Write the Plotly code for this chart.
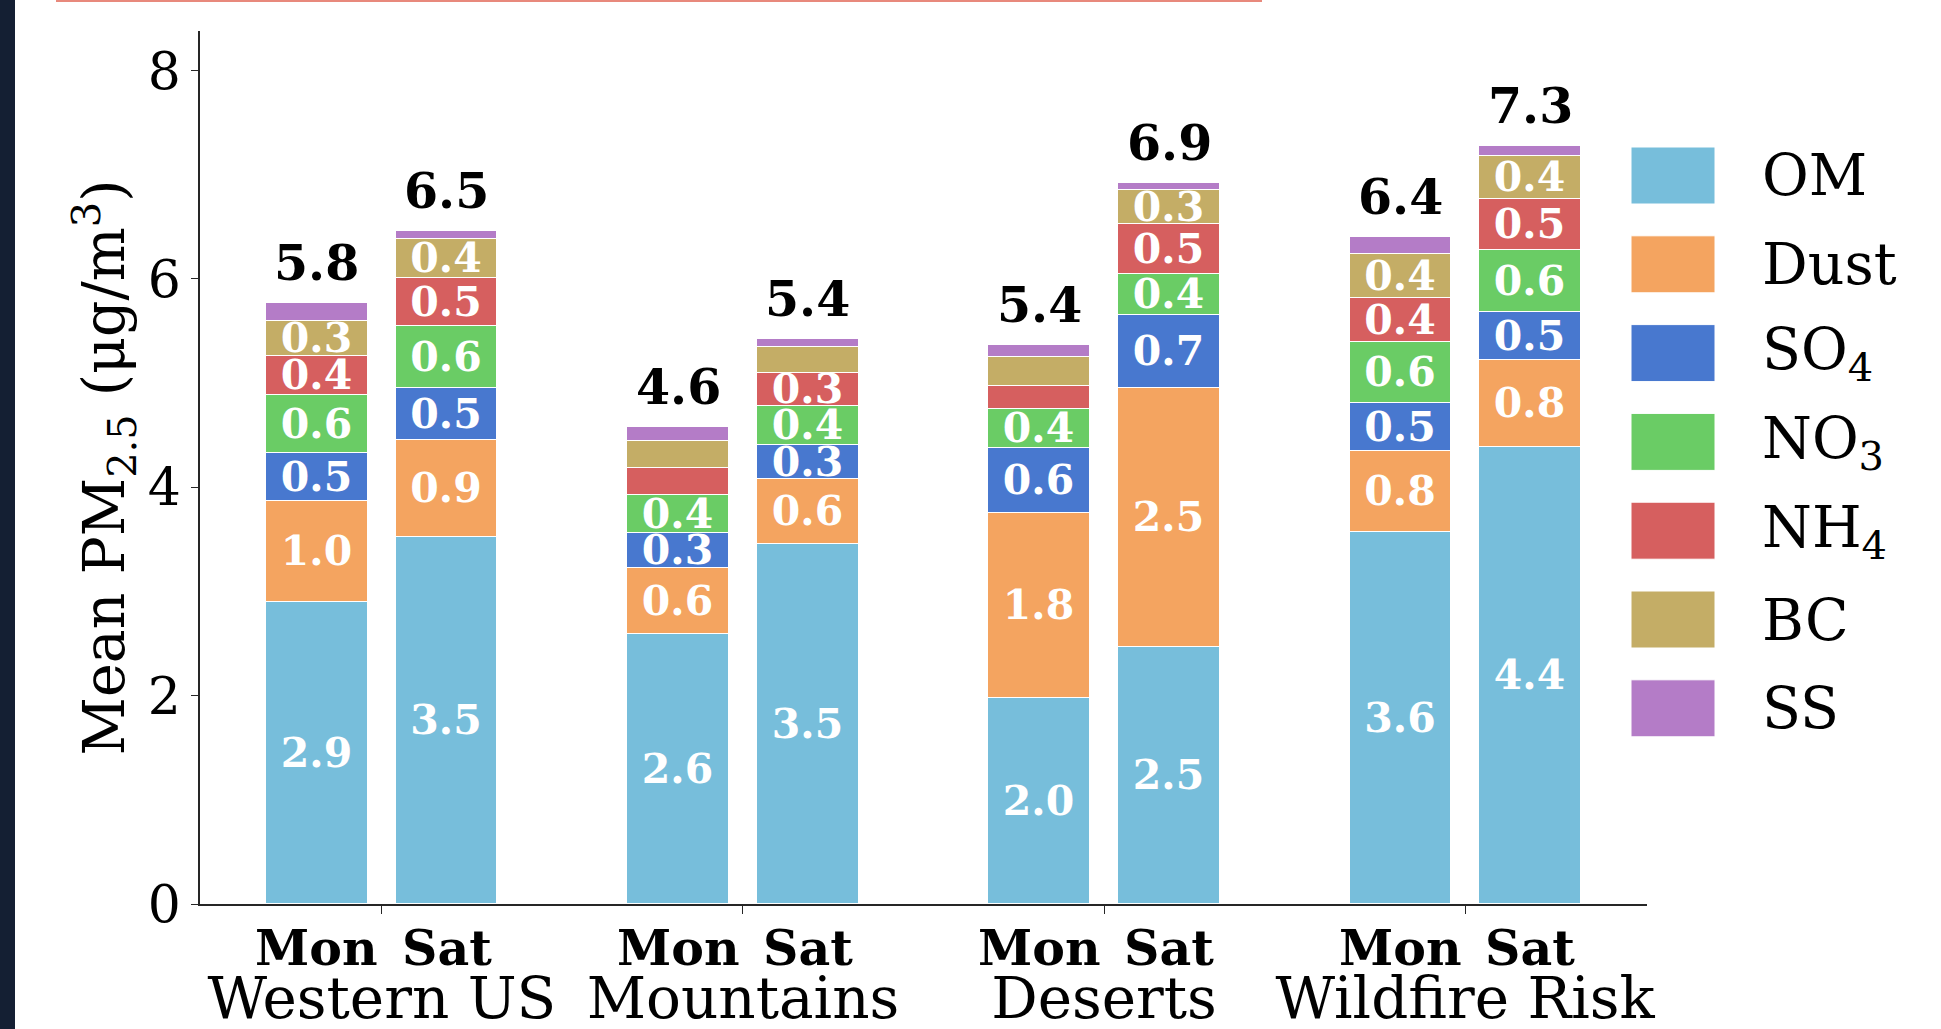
import plotly.graph_objects as go

# ---------------- data ----------------
regions = ["Western US", "Mountains", "Deserts", "Wildfire Risk"]
days = ["Mon", "Sat"]
components = ["OM", "Dust", "SO<sub>4</sub>", "NO<sub>3</sub>", "NH<sub>4</sub>", "BC", "SS"]
# order of bars: [WUS Mon, WUS Sat, Mtn Mon, Mtn Sat, Des Mon, Des Sat, WF Mon, WF Sat]
om = [2.90, 3.52, 2.59, 3.46, 1.98, 2.47, 3.57, 4.39]
dust = [0.97, 0.93, 0.64, 0.62, 1.77, 2.48, 0.78, 0.83]
so4 = [0.46, 0.50, 0.33, 0.33, 0.63, 0.70, 0.46, 0.46]
no3 = [0.56, 0.60, 0.37, 0.37, 0.37, 0.40, 0.58, 0.60]
nh4 = [0.37, 0.46, 0.26, 0.32, 0.22, 0.48, 0.43, 0.49]
bc = [0.34, 0.37, 0.25, 0.25, 0.28, 0.32, 0.42, 0.41]
ss = [0.17, 0.08, 0.14, 0.07, 0.12, 0.07, 0.16, 0.10]
series = [om, dust, so4, no3, nh4, bc, ss]
colors = ["#77BEDB", "#F4A460", "#4878CF", "#6ACC65", "#D65F5F", "#C4AD66", "#B47CC7"]

LABEL_MIN = 0.3
DAY_OFFSET = 0.18
BAR_WIDTH = 0.28

FONT = "DejaVu Serif"

# ---------------- layout geometry (pixels) ----------------
W, H = 1941, 1029
ML, MR, MT, MB = 200, 294, 31, 125
PW, PH = W - ML - MR, H - MT - MB


def px2x(px):
    return (px - ML) / PW


def px2y(py):
    return (H - MB - py) / PH


xs = []
for gi, _ in enumerate(regions):
    for di, _ in enumerate(days):
        xs.append(gi + (DAY_OFFSET if di else -DAY_OFFSET))

fig = go.Figure()
for name, vals, col in zip(components, series, colors):
    fig.add_trace(go.Bar(
        x=xs, y=vals, width=BAR_WIDTH, name=name,
        marker=dict(color=col, line=dict(color="white", width=1)),
        text=[f"{v:.1f}" if v >= LABEL_MIN else "" for v in vals],
        textposition="inside", insidetextanchor="middle", textangle=0,
        textfont=dict(family=FONT, size=41, color="white", weight="bold"),
        showlegend=False, hoverinfo="skip",
    ))

totals = [sum(s[i] for s in series) for i in range(len(xs))]
annotations = []
for x, t in zip(xs, totals):
    annotations.append(dict(x=x, y=t, xref="x", yref="y", text=f"<b>{t:.1f}</b>",
                            showarrow=False, yanchor="middle", yshift=40,
                            font=dict(family=FONT, size=49, color="black")))
for i, x in enumerate(xs):
    annotations.append(dict(x=x, y=0, xref="x", yref="paper", text=f"<b>{days[i % 2]}</b>",
                            showarrow=False, yanchor="middle", yshift=-44,
                            font=dict(family=FONT, size=49, color="black")))

# manual legend with large swatches
shapes = []
LEG_X0, LEG_X1, LEG_TOP, LEG_STEP, LEG_H, LEG_TX = 1631, 1715, 147, 88.8, 57, 1760
for k, (name, col) in enumerate(zip(components, colors)):
    top = LEG_TOP + k * LEG_STEP
    shapes.append(dict(type="rect", xref="paper", yref="paper",
                       x0=px2x(LEG_X0), x1=px2x(LEG_X1), y0=px2y(top + LEG_H), y1=px2y(top),
                       fillcolor=col, line=dict(color="white", width=1), layer="above"))
    annotations.append(dict(x=px2x(LEG_TX), y=px2y(top + LEG_H / 2), xref="paper", yref="paper",
                            text=name, showarrow=False, xanchor="left", yanchor="middle",
                            font=dict(family=FONT, size=57, color="black")))

# page decorations (dark strip at left, salmon rule at top)
shapes.append(dict(type="rect", xref="paper", yref="paper", x0=px2x(0), x1=px2x(15),
                   y0=px2y(H), y1=px2y(0), fillcolor="#141F33", line=dict(width=0), layer="above"))
shapes.append(dict(type="rect", xref="paper", yref="paper", x0=px2x(56), x1=px2x(1262),
                   y0=px2y(2), y1=px2y(0), fillcolor="#E8897C", line=dict(width=0), layer="above"))

fig.update_layout(
    width=W, height=H,
    margin=dict(l=ML, r=MR, t=MT, b=MB, pad=0, autoexpand=False),
    paper_bgcolor="white", plot_bgcolor="white",
    barmode="stack", bargap=0,
    uniformtext=dict(minsize=41, mode="show"),
    font=dict(family=FONT, color="black"),
    showlegend=False,
    annotations=annotations, shapes=shapes,
)
fig.update_xaxes(
    automargin=False,
    range=[-0.504, 3.504], tickmode="array", tickvals=list(range(len(regions))), ticktext=regions,
    showgrid=False, zeroline=False, showline=True, linecolor="#262626", linewidth=1.5,
    ticks="outside", ticklen=8, tickcolor="#262626", tickwidth=1.2,
    tickfont=dict(family=FONT, size=58, color="black"), ticklabelstandoff=35,
)
fig.update_yaxes(
    automargin=False,
    range=[0, 8.38], tickvals=[0, 2, 4, 6, 8], showgrid=False, zeroline=False,
    showline=True, linecolor="#262626", linewidth=1.5,
    ticks="outside", ticklen=7, tickcolor="#262626", tickwidth=1.2,
    tickfont=dict(family=FONT, size=52, color="black"), ticklabelstandoff=0,
    title=dict(text="Mean PM<sub>2.5</sub> (μg/m<sup>3</sup>)",
               font=dict(family=FONT, size=57, color="black"), standoff=5),
)

fig.write_html("out.html", config={"displayModeBar": False},
               post_script="document.body.style.margin='0';document.body.style.overflow='hidden';")
